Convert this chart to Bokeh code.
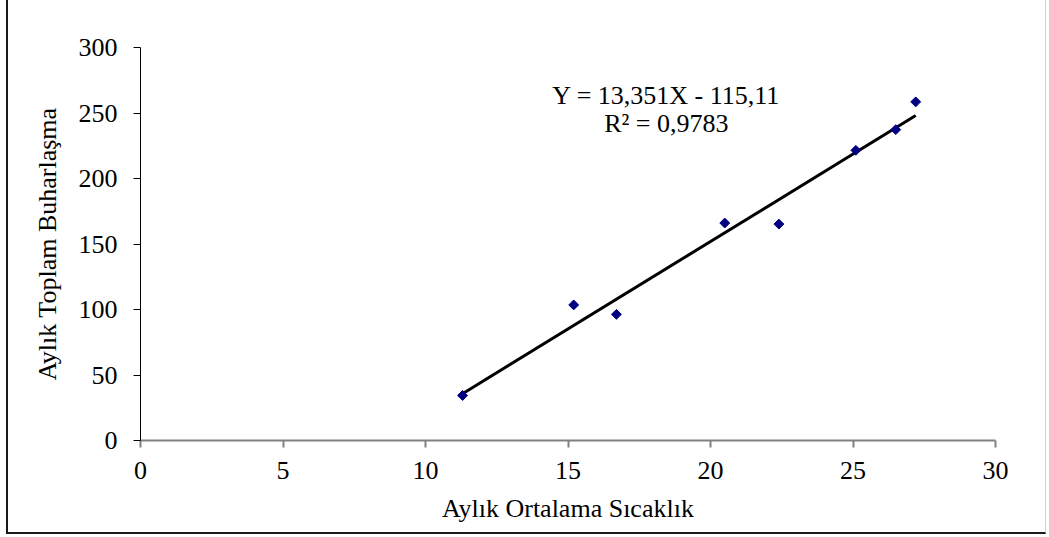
import math
from bokeh.plotting import figure
from bokeh.models import Range1d, FixedTicker, ColumnDataSource
from bokeh.core.properties import value
from bokeh.embed import file_html
from bokeh.resources import INLINE

# Data
temperature = [11.3, 15.2, 16.7, 20.5, 22.4, 25.1, 26.5, 27.2]
evaporation = [34.4, 103.5, 96.3, 166.0, 165.2, 221.5, 237.3, 258.5]
slope = 13.351
intercept = -115.11
equation_lines = ["Y = 13,351X - 115,11", "R² = 0,9783"]
x_ticks = [0, 5, 10, 15, 20, 25, 30]
y_ticks = [0, 50, 100, 150, 200, 250, 300]
x_title = "Aylık Ortalama Sıcaklık"
y_title = "Aylık Toplam Buharlaşma"

FONT = "Liberation Serif"
FS = "26px"

p = figure(width=1040, height=534, output_backend="svg", toolbar_location=None,
           x_range=Range1d(0, 30), y_range=Range1d(0, 300),
           min_border_left=132, min_border_right=53, min_border_top=47, min_border_bottom=94)
p.styles = {"margin-left": "6px", "border-left": "2px solid #1a1a1a",
            "border-bottom": "2px solid #1a1a1a", "border-right": "1px solid #d0d0d0"}
p.outline_line_color = None
p.grid.visible = False
p.background_fill_color = "white"
p.border_fill_color = "white"

for ax, ticks in ((p.xaxis[0], x_ticks), (p.yaxis[0], y_ticks)):
    ax.ticker = FixedTicker(ticks=ticks)
    ax.minor_tick_line_color = None
    ax.major_tick_in = 0
    ax.major_tick_out = 7
    ax.major_label_text_font = FONT
    ax.major_label_text_font_size = FS
    ax.major_label_text_color = "black"
    ax.axis_label_text_font = FONT
    ax.axis_label_text_font_size = FS
    ax.axis_label_text_font_style = "normal"
    ax.axis_label_text_color = "black"
    ax.major_label_standoff = 14

p.xaxis.axis_line_color = "#808080"
p.xaxis.major_tick_line_color = "#808080"
p.xaxis.axis_line_width = 2
p.xaxis.major_tick_line_width = 2
p.yaxis.axis_line_color = "black"
p.yaxis.major_tick_line_color = "black"
p.yaxis.major_label_standoff = 16
p.xaxis.axis_label = x_title
p.yaxis.axis_label = y_title
p.xaxis.axis_label_standoff = 12
p.yaxis.axis_label_standoff = 14

# trend line from the fitted equation over the data span
x0, x1 = min(temperature), max(temperature)
p.line([x0, x1], [slope * x0 + intercept, slope * x1 + intercept], line_color="black", line_width=3)

src = ColumnDataSource(dict(x=temperature, y=evaporation))
p.scatter("x", "y", source=src, marker="square", size=7, angle=math.pi / 4,
          fill_color="#000080", line_color="#000080")

p.text(x=[18.45, 18.45], y=[263.5, 242.0], text=equation_lines, text_font=value(FONT),
       text_font_size=FS, text_align="center", text_baseline="alphabetic", text_color="black")

open("out.html", "w").write(file_html(p, INLINE))
